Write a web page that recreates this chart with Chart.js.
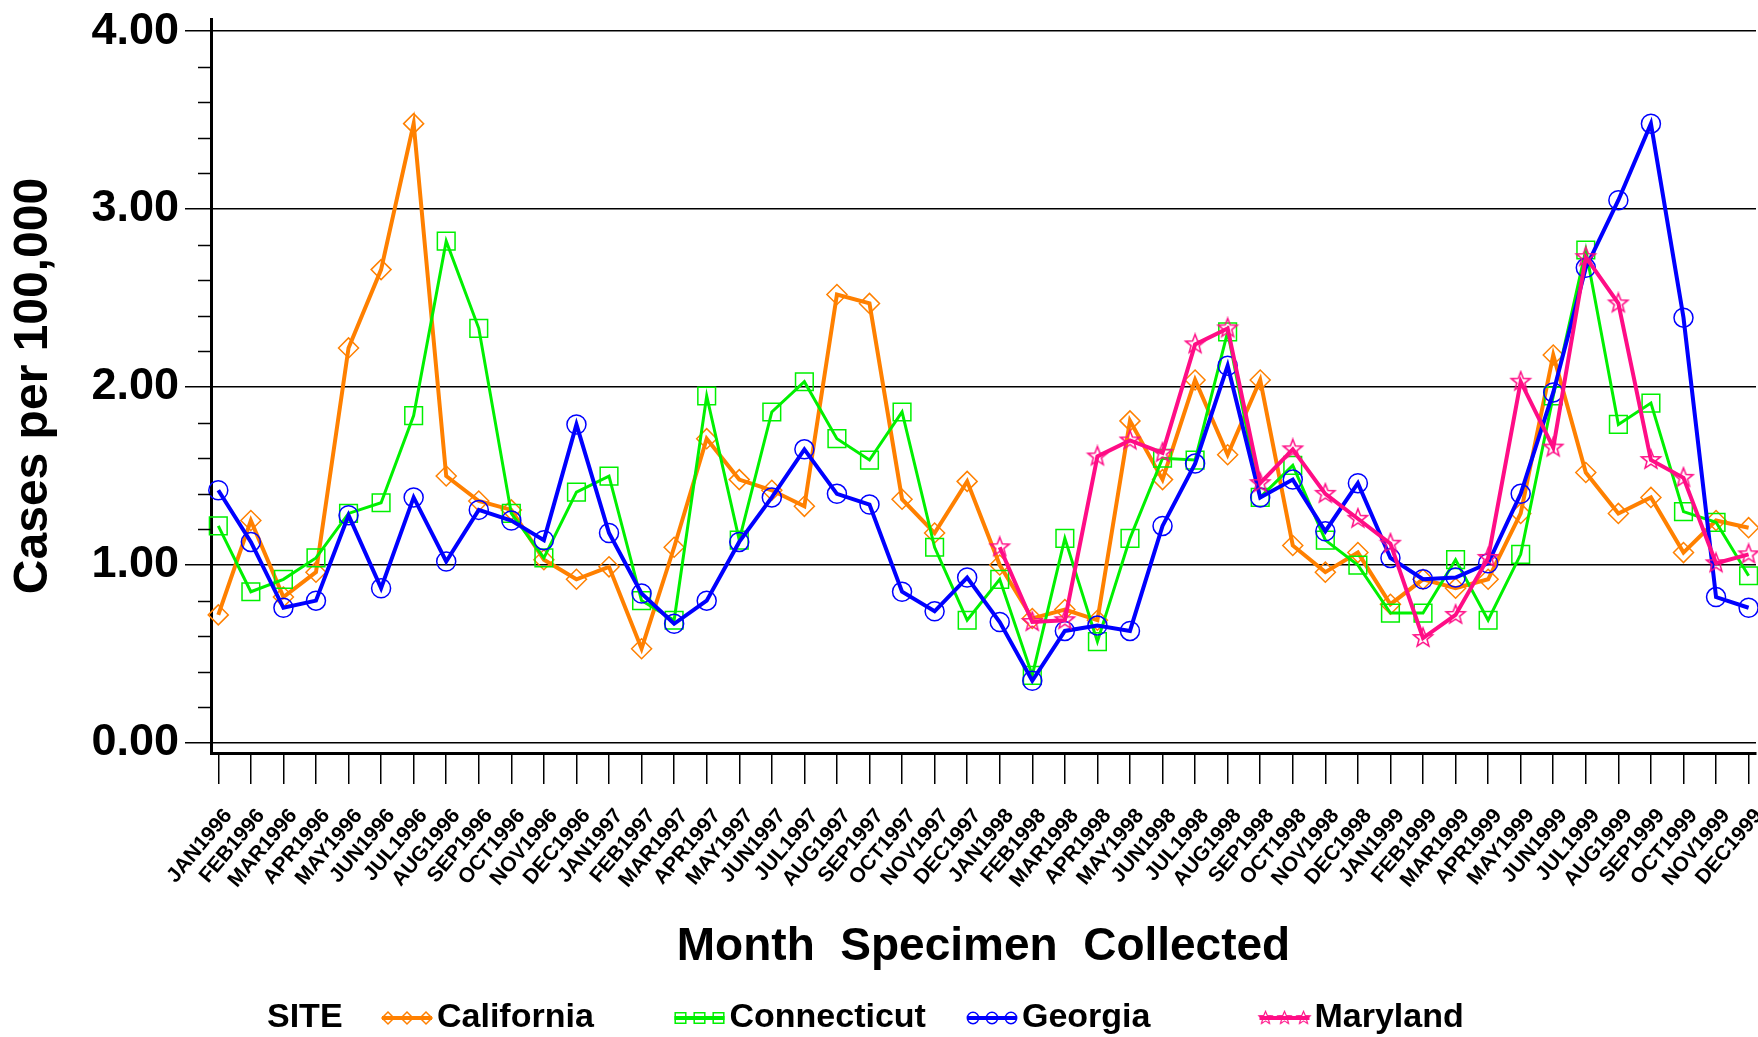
<!DOCTYPE html>
<html>
<head>
<meta charset="utf-8">
<script src="https://cdn.jsdelivr.net/npm/chart.js@4.4.1/dist/chart.umd.min.js"></script>
<style>
  html, body { margin: 0; padding: 0; background: #fff; }
  canvas { display: block; }
</style>
</head>
<body>
<canvas id="chart" width="1758" height="1037"></canvas>
<script>
// Tick labels
const monthNames = ['JAN', 'FEB', 'MAR', 'APR', 'MAY', 'JUN', 'JUL', 'AUG', 'SEP', 'OCT', 'NOV', 'DEC'];
const years = [1996, 1997, 1998, 1999];
const months = [];
years.forEach(y => monthNames.forEach(m => months.push(m + y)));
const yTickValues = [0, 1, 2, 3, 4];

// Cases per 100,000, one value per month Jan 1996 .. Dec 1999
const california = [
  0.72, 1.25, 0.82, 0.96, 2.22, 2.66, 3.48, 1.50, 1.36, 1.31, 1.03, 0.92,
  0.99, 0.53, 1.10, 1.71, 1.48, 1.42, 1.33, 2.52, 2.47, 1.37, 1.18, 1.47,
  1.00, 0.70, 0.75, 0.69, 1.81, 1.48, 2.04, 1.62, 2.04, 1.11, 0.96, 1.07,
  0.78, 0.92, 0.87, 0.92, 1.29, 2.18, 1.52, 1.29, 1.38, 1.07, 1.25, 1.21
];
const connecticut = [
  1.22, 0.85, 0.92, 1.04, 1.29, 1.35, 1.84, 2.82, 2.33, 1.29, 1.04, 1.41,
  1.50, 0.80, 0.69, 1.95, 1.14, 1.86, 2.03, 1.71, 1.59, 1.86, 1.10, 0.69,
  0.92, 0.38, 1.15, 0.57, 1.15, 1.60, 1.59, 2.31, 1.38, 1.56, 1.14, 1.00,
  0.73, 0.73, 1.03, 0.69, 1.06, 1.95, 2.77, 1.79, 1.91, 1.30, 1.24, 0.94
];
const georgia = [
  1.42, 1.13, 0.76, 0.80, 1.28, 0.87, 1.38, 1.02, 1.31, 1.25, 1.14, 1.79,
  1.18, 0.84, 0.67, 0.80, 1.13, 1.38, 1.65, 1.40, 1.34, 0.85, 0.74, 0.93,
  0.68, 0.35, 0.63, 0.66, 0.63, 1.22, 1.57, 2.12, 1.38, 1.48, 1.19, 1.46,
  1.04, 0.92, 0.93, 1.01, 1.40, 1.97, 2.67, 3.05, 3.48, 2.39, 0.82, 0.76
];
const maryland = [
  null, null, null, null, null, null, null, null, null, null, null, null,
  null, null, null, null, null, null, null, null, null, null, null, null,
  1.10, 0.68, 0.69, 1.61, 1.70, 1.63, 2.24, 2.33, 1.46, 1.65, 1.40, 1.26,
  1.12, 0.59, 0.72, 1.04, 2.03, 1.66, 2.73, 2.47, 1.59, 1.49, 1.01, 1.06
];

const FONT = "'Liberation Sans', Arial, Helvetica, sans-serif";

// hollow five point star used as point style for Maryland
function makeStar(color, r) {
  const c = document.createElement('canvas');
  const size = Math.ceil(r * 2 + 4);
  c.width = size; c.height = size;
  const g = c.getContext('2d');
  g.strokeStyle = color;
  g.lineWidth = 1.5;
  g.beginPath();
  for (let i = 0; i < 10; i++) {
    const rad = i % 2 === 0 ? r : r * 0.42;
    const a = -Math.PI / 2 + i * Math.PI / 5;
    const px = size / 2 + rad * Math.cos(a), py = size / 2 + rad * Math.sin(a);
    if (i === 0) g.moveTo(px, py); else g.lineTo(px, py);
  }
  g.closePath();
  g.stroke();
  return c;
}

const sites = [
  { label: 'California', values: california, color: '#ff8000', style: 'rectRot', radius: 10, width: 4, order: 3 },
  { label: 'Connecticut', values: connecticut, color: '#00f000', style: 'rect', radius: 12.5, width: 3, order: 2 },
  { label: 'Georgia', values: georgia, color: '#0000ff', style: 'circle', radius: 9.5, width: 4, order: 1 },
  { label: 'Maryland', values: maryland, color: '#ff0d86', style: makeStar('#ff0d86', 10), radius: 10, width: 4, order: 0 }
];

// legend drawn under the x axis title: "SITE" then one sample per site
const siteLegend = {
  id: 'siteLegend',
  afterDraw(chart) {
    const ctx = chart.ctx;
    const y = 1018;
    ctx.save();
    ctx.font = 'bold 34px ' + FONT;
    ctx.textBaseline = 'middle';
    ctx.textAlign = 'left';
    ctx.fillStyle = '#000';
    ctx.fillText('SITE', 267, y);
    sites.forEach((s, i) => {
      const x0 = 382 + i * 292.5;
      ctx.strokeStyle = s.color;
      ctx.lineWidth = 4;
      ctx.beginPath();
      ctx.moveTo(x0, y); ctx.lineTo(x0 + 50, y);
      ctx.stroke();
      [x0 + 6, x0 + 25, x0 + 44].forEach(mx => {
        if (typeof s.style === 'string') {
          ctx.fillStyle = 'rgba(0,0,0,0)';
          ctx.strokeStyle = s.color;
          ctx.lineWidth = 1.5;
          Chart.helpers.drawPoint(ctx, { pointStyle: s.style, radius: s.radius * 0.6, borderWidth: 1.5 }, mx, y);
        } else {
          ctx.drawImage(s.style, mx - s.style.width * 0.35, y - s.style.height * 0.35, s.style.width * 0.7, s.style.height * 0.7);
        }
      });
      ctx.fillStyle = '#000';
      ctx.fillText(s.label, x0 + 55, y);
    });
    ctx.restore();
  }
};

// short minor ticks on the y axis every 0.2
const minorTicks = {
  id: 'minorTicks',
  afterDraw(chart) {
    const ctx = chart.ctx, ys = chart.scales.y;
    ctx.save();
    ctx.strokeStyle = '#000';
    ctx.lineWidth = 1.5;
    for (let k = 1; k < 20; k++) {
      if (k % 5 === 0) continue;
      const py = Math.round(ys.getPixelForValue(k * 0.2)) + 0.5;
      ctx.beginPath();
      ctx.moveTo(ys.right - 13, py);
      ctx.lineTo(ys.right, py);
      ctx.stroke();
    }
    ctx.restore();
  }
};

new Chart(document.getElementById('chart'), {
  type: 'line',
  data: {
    datasets: sites.map(s => ({
      label: s.label,
      data: s.values.map((v, i) => ({ x: i, y: v })).filter(p => p.y !== null),
      borderColor: s.color,
      borderWidth: s.width,
      pointStyle: s.style,
      pointRadius: s.radius,
      pointBorderColor: s.color,
      pointBorderWidth: 1.5,
      pointBackgroundColor: 'rgba(0,0,0,0)',
      tension: 0,
      clip: false,
      order: s.order
    }))
  },
  options: {
    responsive: false,
    animation: false,
    layout: { autoPadding: false, padding: { top: 19, right: 2, bottom: 62, left: 0 } },
    plugins: { legend: { display: false }, tooltip: { enabled: false } },
    scales: {
      x: {
        type: 'linear',
        min: -0.224,
        max: 47.227,
        afterBuildTicks: scale => { scale.ticks = months.map((m, i) => ({ value: i })); },
        afterFit: scale => {
          scale.height = 222;
          scale.paddingLeft = 0;
          scale.paddingRight = 0;
        },
        grid: { drawOnChartArea: false, color: '#000', lineWidth: 1.5, tickLength: 31 },
        border: { color: '#000', width: 3 },
        ticks: {
          autoSkip: false,
          minRotation: 50,
          maxRotation: 50,
          padding: 20,
          labelOffset: 10,
          color: '#000',
          font: { family: FONT, size: 21, weight: 'bold' },
          callback: value => months[value]
        },
        title: {
          display: true,
          text: 'Month  Specimen  Collected',
          color: '#000',
          font: { family: FONT, size: 46, weight: 'bold' },
          padding: { top: 0, bottom: 0 }
        }
      },
      y: {
        min: -0.056,
        max: 4.068,
        afterBuildTicks: scale => { scale.ticks = yTickValues.map(v => ({ value: v })); },
        afterFit: scale => {
          scale.width = 211;
          scale.paddingTop = 0;
          scale.paddingBottom = 0;
        },
        grid: { color: '#000', lineWidth: 1.5, tickLength: 26 },
        border: { color: '#000', width: 3 },
        ticks: {
          padding: 6,
          color: '#000',
          font: { family: FONT, size: 45, weight: 'bold' },
          callback: value => value.toFixed(2)
        },
        title: {
          display: true,
          text: 'Cases per 100,000',
          color: '#000',
          font: { family: FONT, size: 48, weight: 'bold' },
          padding: { top: 5, bottom: 0 }
        }
      }
    }
  },
  plugins: [minorTicks, siteLegend]
});
</script>
</body>
</html>
